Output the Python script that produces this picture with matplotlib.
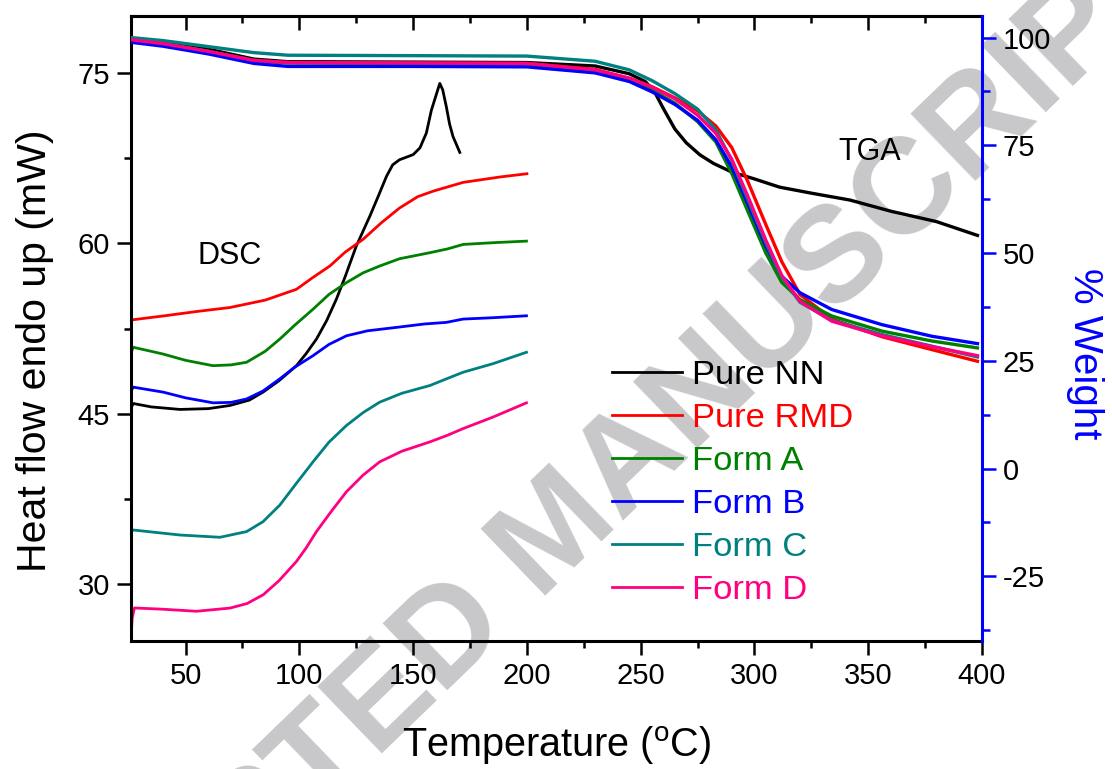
import matplotlib.pyplot as plt
from matplotlib.ticker import MultipleLocator

plt.rcParams['font.family'] = ['Liberation Sans', 'DejaVu Sans']
plt.rcParams['mathtext.fontset'] = 'custom'
plt.rcParams['mathtext.rm'] = 'Liberation Sans'
plt.rcParams['axes.unicode_minus'] = False

## DSC traces (heat flow, mW) - left axis
nn_dsc_t = [26, 27, 35, 47.5, 60, 69.5, 78, 84, 91, 98.7, 103, 107.5, 112, 116.3, 120, 125,
            131, 135, 138.3, 141, 144, 150, 153, 155.8, 158, 160.5, 161.7, 163, 164.6, 166,
            167.5, 170.5]
nn_dsc = [45.5, 45.9, 45.6, 45.38, 45.45, 45.73, 46.2, 46.9, 47.9, 49.23, 50.3, 51.57, 53.2,
          55.1, 57.0, 59.75, 62.4, 64.3, 65.9, 66.9, 67.35, 67.8, 68.4, 69.7, 71.7, 73.3,
          74.07, 73.5, 72.0, 70.5, 69.4, 68.0]

rmd_dsc_t = [26, 40, 55, 69.5, 85, 98.7, 106, 113.4, 120, 128, 136, 144, 152, 159, 172, 188, 200]
rmd_dsc = [53.25, 53.6, 54.0, 54.35, 55.0, 55.95, 57.0, 58.0, 59.2, 60.35, 61.8, 63.1, 64.1,
           64.6, 65.36, 65.83, 66.12]

forma_dsc_t = [26, 27, 40, 50, 62, 70, 76.8, 85, 91.4, 98, 106, 113, 120.7, 128, 135.3, 144,
               157.3, 165, 172, 185, 199.8]
forma_dsc = [50.4, 50.85, 50.26, 49.7, 49.23, 49.3, 49.53, 50.5, 51.57, 52.8, 54.2, 55.5,
             56.54, 57.4, 58.0, 58.64, 59.17, 59.5, 59.9, 60.05, 60.19]

formb_dsc_t = [26, 27, 40.2, 50, 62.1, 70, 76.8, 84, 91.4, 98, 106, 113, 120.7, 130, 142.7,
               155, 164.6, 171.9, 185, 199.8]
formb_dsc = [47.0, 47.34, 46.9, 46.4, 45.96, 46.0, 46.3, 47.0, 48.07, 49.1, 50.11, 51.1,
             51.86, 52.3, 52.6, 52.9, 53.04, 53.33, 53.45, 53.62]

formc_dsc_t = [26, 27, 47.5, 65.1, 76.8, 84, 91.4, 98, 106, 113, 120.7, 128, 135.3, 145,
               157.3, 165, 171.9, 185, 199.8]
formc_dsc = [34.6, 34.77, 34.33, 34.13, 34.63, 35.5, 36.96, 38.7, 40.77, 42.5, 43.97, 45.1,
             46.02, 46.8, 47.48, 48.1, 48.65, 49.4, 50.41]

formd_dsc_t = [26, 26.5, 27.5, 40, 54.8, 69.5, 77, 84.1, 91, 98.7, 103, 107.5, 114, 120.7,
               128, 135.3, 145, 157.3, 165, 171.9, 185, 199.8]
formd_dsc = [25.1, 27.0, 27.91, 27.8, 27.62, 27.9, 28.3, 29.07, 30.3, 32.0, 33.2, 34.63, 36.4,
             38.14, 39.6, 40.77, 41.7, 42.52, 43.1, 43.69, 44.7, 45.96]

## TGA traces (% weight) - right axis
nn_tga_t = [26, 40, 60, 80, 95, 150, 200, 230, 245, 252, 256, 260, 265, 270, 276, 282, 290,
            300, 311, 325, 342, 360, 380, 398]
nn_tga = [99.6, 98.9, 97.3, 95.0, 94.4, 94.3, 94.2, 93.4, 91.6, 89.8, 87.5, 83.5, 78.8, 75.6,
          72.8, 70.8, 68.8, 67.2, 65.3, 63.9, 62.3, 59.7, 57.3, 54.1]

tga_t = [26, 40, 60, 80, 95, 150, 200, 230, 245, 255, 265, 275, 283, 290, 297, 305, 312, 320,
         334, 356, 378, 398]
rmd_tga = [99.5, 98.6, 96.8, 94.7, 94.2, 94.1, 94.0, 92.6, 90.5, 88.6, 86.0, 83.0, 79.5, 74.5,
           66.7, 56.6, 48.0, 40.4, 34.7, 30.6, 27.6, 24.9]
forma_tga = [99.4, 98.6, 96.8, 94.6, 94.1, 94.0, 93.9, 92.2, 90.0, 87.8, 84.8, 80.5, 75.8, 68.5,
             59.8, 50.0, 43.2, 39.2, 35.4, 31.9, 29.6, 28.0]
formb_tga = [98.9, 98.0, 96.2, 94.0, 93.3, 93.3, 93.2, 91.8, 89.8, 87.4, 84.5, 80.8, 76.3, 70.0,
             61.5, 51.6, 44.6, 40.8, 36.9, 33.4, 30.7, 29.0]
formc_tga = [100.0, 99.3, 97.9, 96.5, 95.9, 95.8, 95.7, 94.5, 92.5, 90.0, 87.0, 83.4, 78.6, 71.5,
             62.6, 52.4, 44.4, 38.6, 34.4, 31.1, 28.4, 25.9]
formd_tga = [99.5, 98.6, 96.8, 94.7, 94.2, 94.1, 94.0, 92.5, 90.6, 88.5, 85.8, 82.0, 77.8, 71.8,
             63.3, 53.0, 44.8, 38.8, 34.2, 30.8, 28.3, 26.2]

labels = ['Pure NN', 'Pure RMD', 'Form A', 'Form B', 'Form C', 'Form D']
colors = ['#000000', '#ff0000', '#008000', '#0000ff', '#008080', '#ff0080']

fig = plt.figure(figsize=(11.12, 7.69), dpi=100)

# watermark behind the plot
fig.text(0.5243, 0.2718, 'ACCEPTED MANUSCRIPT', fontsize=98, fontweight='bold', color='#c8c8ca',
         rotation=44, rotation_mode='anchor', ha='center', va='baseline', zorder=-5)

ax = fig.add_axes([0.1178, 0.1664, 0.7653, 0.8128])
ax.patch.set_visible(False)
ax2 = ax.twinx()

dsc = [(nn_dsc_t, nn_dsc), (rmd_dsc_t, rmd_dsc), (forma_dsc_t, forma_dsc),
       (formb_dsc_t, formb_dsc), (formc_dsc_t, formc_dsc), (formd_dsc_t, formd_dsc)]
tga = [(nn_tga_t, nn_tga), (tga_t, rmd_tga), (tga_t, forma_tga), (tga_t, formb_tga),
       (tga_t, formc_tga), (tga_t, formd_tga)]

handles = []
for (t, y), lab, c in zip(dsc, labels, colors):
    h, = ax.plot(t, y, color=c, lw=2.0, label=lab)
    handles.append(h)
for (t, y), c in zip(tga, colors):
    ax2.plot(t, y, color=c, lw=2.4)

ax.set_xlim(26, 400)
ax.set_ylim(25, 80)
ax2.set_ylim(-40, 105)

ax.set_xticks(range(50, 401, 50))
ax.xaxis.set_minor_locator(MultipleLocator(25))
ax.set_yticks([30, 45, 60, 75])
ax.yaxis.set_minor_locator(MultipleLocator(7.5))
ax2.set_yticks([-25, 0, 25, 50, 75, 100])
ax2.yaxis.set_minor_locator(MultipleLocator(12.5))

ax.tick_params(which='both', direction='out', width=1.8, labelsize=21, pad=5)
ax.tick_params(which='major', length=10)
ax.tick_params(which='minor', length=5)
ax2.tick_params(which='both', direction='out', width=1.8, colors='blue', labelcolor='black',
                labelsize=21, pad=5)
ax2.tick_params(which='major', length=10)
ax2.tick_params(which='minor', length=5.5)

# inward ticks along the top edge
top = ax.secondary_xaxis('top')
top.set_xticks(range(50, 401, 50))
top.xaxis.set_minor_locator(MultipleLocator(25))
top.tick_params(which='both', direction='in', width=1.8, labeltop=False)
top.tick_params(which='major', length=10)
top.tick_params(which='minor', length=5)
top.spines['top'].set_linewidth(2.2)

for s in ['left', 'bottom', 'top']:
    ax.spines[s].set_linewidth(2.2)
ax.spines['right'].set_visible(False)
for s in ['left', 'bottom', 'top']:
    ax2.spines[s].set_visible(False)
ax2.spines['right'].set_color('blue')
ax2.spines['right'].set_linewidth(2.2)

ax.set_xlabel('Temperature ($^{\\mathregular{o}}$C)', fontsize=28.5, labelpad=25)
ax.set_ylabel('Heat flow endo up (mW)', fontsize=29.5)
ax.yaxis.set_label_coords(-0.0905, 0.465)
ax2.set_ylabel('% Weight', fontsize=29, color='blue', rotation=270, va='bottom')
ax2.yaxis.set_label_coords(1.0987, 0.459)

ax.text(69.5, 58.85, 'DSC', fontsize=22, ha='center', va='center')
ax.text(350.5, 68.05, 'TGA', fontsize=22, ha='center', va='center')

fig.legend(handles=handles, loc='upper left', bbox_to_anchor=(0.5501, 0.5325),
           frameon=False, fontsize=24.8, labelcolor='linecolor', handlelength=2.03,
           handletextpad=0.3, labelspacing=0.35, borderpad=0, borderaxespad=0)

fig.savefig('out.png', dpi=100)
